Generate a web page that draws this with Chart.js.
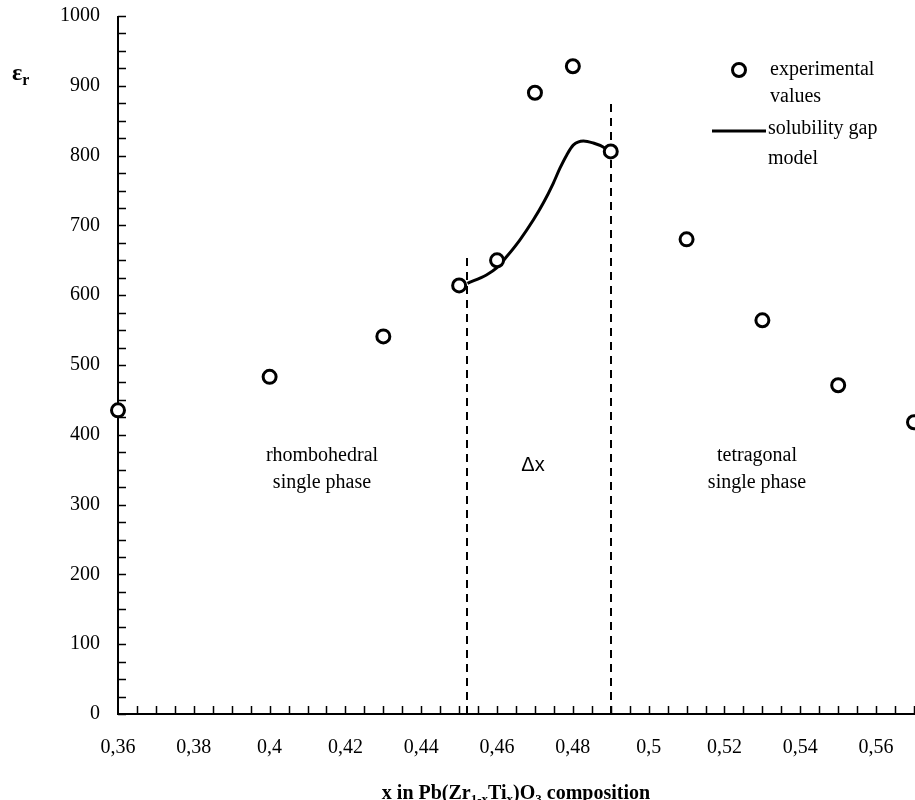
<!DOCTYPE html>
<html>
<head>
<meta charset="utf-8">
<script src="https://cdn.jsdelivr.net/npm/chart.js@4.4.1/dist/chart.umd.min.js"></script>
<style>
  html, body { margin: 0; padding: 0; background: #fff; }
  #wrap { width: 915px; height: 800px; }
</style>
</head>
<body>
<div id="wrap"><canvas id="chart" width="915" height="800"></canvas></div>
<script>
// Measured relative permittivity of PZT ceramics vs. Ti fraction x
const compositions = [0.36, 0.40, 0.43, 0.45, 0.46, 0.47, 0.48, 0.49, 0.51, 0.53, 0.55, 0.57];
const permittivity = [435, 483, 541, 614, 650, 890, 928, 806, 680, 564, 471, 418];

// Solubility gap model curve across the two-phase region
const modelX = [0.4522, 0.4572, 0.4599, 0.4625, 0.4660, 0.4696, 0.4722, 0.4748, 0.4766, 0.4784, 0.4801, 0.4828, 0.4854, 0.4881, 0.4898];
const modelY = [617, 629, 639, 655, 679, 708, 732, 760, 782, 801, 815, 821, 818, 812, 805];

// Phase boundaries (dashed verticals) and how high they reach
const boundaryX = [0.452, 0.49];
const boundaryTop = [655, 875];

// Axis ticks
const xTickValues = [0.36, 0.38, 0.40, 0.42, 0.44, 0.46, 0.48, 0.50, 0.52, 0.54, 0.56];
const xTickLabels = ['0,36', '0,38', '0,4', '0,42', '0,44', '0,46', '0,48', '0,5', '0,52', '0,54', '0,56'];
const yTickValues = [0, 100, 200, 300, 400, 500, 600, 700, 800, 900, 1000];
const xMinorStep = 0.005;
const yMinorStep = 25;

const SERIF = '"Liberation Serif", "Times New Roman", serif';

function drawRich(ctx, parts, x, y, align, size, bold) {
  const w = bold ? 'bold ' : '';
  const fontMain = w + size + 'px ' + SERIF;
  const fontSub = w + Math.round(size * 0.65) + 'px ' + SERIF;
  let total = 0;
  parts.forEach(p => { ctx.font = p.sub ? fontSub : fontMain; total += ctx.measureText(p.t).width; });
  let cx = align === 'center' ? x - total / 2 : x;
  ctx.textAlign = 'left';
  ctx.textBaseline = 'alphabetic';
  parts.forEach(p => {
    ctx.font = p.sub ? fontSub : fontMain;
    ctx.fillText(p.t, cx, p.sub ? y + size * 0.22 : y);
    cx += ctx.measureText(p.t).width;
  });
}

const framePlugin = {
  id: 'frame',
  beforeDatasetsDraw(chart) {
    const ctx = chart.ctx;
    const xs = chart.scales.x, ys = chart.scales.y;
    const x0 = xs.getPixelForValue(xs.min), x1 = chart.width;
    const y0 = ys.getPixelForValue(0), y1 = ys.getPixelForValue(1000);
    ctx.save();
    ctx.strokeStyle = '#000';
    ctx.fillStyle = '#000';
    // axis lines
    ctx.lineWidth = 2;
    ctx.beginPath();
    ctx.moveTo(x0, y1); ctx.lineTo(x0, y0); ctx.lineTo(x1, y0);
    ctx.stroke();
    // inward ticks
    ctx.lineWidth = 1.5;
    ctx.beginPath();
    for (let v = 0; v <= 1000 + 1e-6; v += yMinorStep) {
      const py = Math.round(ys.getPixelForValue(v)) + 0.5;
      ctx.moveTo(x0, py); ctx.lineTo(x0 + 8, py);
    }
    for (let i = 1; ; i++) {
      const v = xs.min + i * xMinorStep;
      if (v > xs.max + 1e-9) break;
      const px = Math.round(xs.getPixelForValue(v)) + 0.5;
      ctx.moveTo(px, y0); ctx.lineTo(px, y0 - 8);
    }
    ctx.stroke();
    // phase boundaries
    ctx.lineWidth = 2;
    ctx.setLineDash([8, 6]);
    boundaryX.forEach((bx, i) => {
      const px = Math.round(xs.getPixelForValue(bx));
      ctx.beginPath();
      ctx.moveTo(px, y0);
      ctx.lineTo(px, ys.getPixelForValue(boundaryTop[i]));
      ctx.stroke();
    });
    ctx.setLineDash([]);
    // tick labels
    ctx.font = '20px ' + SERIF;
    ctx.textAlign = 'right';
    ctx.textBaseline = 'middle';
    yTickValues.forEach(v => ctx.fillText(String(v), x0 - 18, ys.getPixelForValue(v)));
    ctx.textAlign = 'center';
    xTickValues.forEach((v, i) => ctx.fillText(xTickLabels[i], xs.getPixelForValue(v), y0 + 34));
    ctx.restore();
  },
  afterDraw(chart) {
    const ctx = chart.ctx;
    ctx.save();
    ctx.fillStyle = '#000';
    // axis titles
    drawRich(ctx, [
      { t: 'x in Pb(Zr' }, { t: '1-x', sub: true }, { t: 'Ti' }, { t: 'x', sub: true },
      { t: ')O' }, { t: '3', sub: true }, { t: ' composition' }
    ], 516, 799, 'center', 20, true);
    drawRich(ctx, [{ t: 'ε' }, { t: 'r', sub: true }], 12, 80, 'left', 24, true);

    // region annotations
    ctx.font = '20px ' + SERIF;
    ctx.textAlign = 'center';
    ctx.textBaseline = 'middle';
    ctx.fillText('rhombohedral', 322, 456);
    ctx.fillText('single phase', 322, 483);
    ctx.fillText('tetragonal', 757, 456);
    ctx.fillText('single phase', 757, 483);
    ctx.font = '20px "Liberation Sans", Arial, sans-serif';
    ctx.fillText('Δx', 533, 465);

    // legend
    ctx.strokeStyle = '#000';
    ctx.lineWidth = 3;
    ctx.beginPath();
    ctx.arc(739, 70, 6.5, 0, Math.PI * 2);
    ctx.stroke();
    ctx.beginPath();
    ctx.moveTo(712, 131); ctx.lineTo(766, 131);
    ctx.stroke();
    ctx.font = '20px ' + SERIF;
    ctx.textAlign = 'left';
    ctx.fillText('experimental', 770, 70);
    ctx.fillText('values', 770, 97);
    ctx.fillText('solubility gap', 768, 129);
    ctx.fillText('model', 768, 159);
    ctx.restore();
  }
};

new Chart(document.getElementById('chart'), {
  type: 'scatter',
  data: {
    datasets: [
      {
        label: 'solubility gap model',
        type: 'line',
        data: modelX.map((x, i) => ({ x: x, y: modelY[i] })),
        borderColor: '#000',
        borderWidth: 3,
        pointRadius: 0,
        cubicInterpolationMode: 'monotone',
        fill: false,
        order: 2
      },
      {
        label: 'experimental values',
        data: compositions.map((x, i) => ({ x: x, y: permittivity[i] })),
        pointStyle: 'circle',
        pointRadius: 6.5,
        pointBorderWidth: 3,
        borderColor: '#000',
        backgroundColor: '#fff',
        clip: false,
        order: 1
      }
    ]
  },
  options: {
    responsive: false,
    animation: false,
    devicePixelRatio: 1,
    layout: { autoPadding: false, padding: { left: 118, right: 1, top: 16, bottom: 86 } },
    plugins: { legend: { display: false }, tooltip: { enabled: false } },
    scales: {
      x: { type: 'linear', min: 0.36, max: 0.57, display: false },
      y: { type: 'linear', min: 0, max: 1000, display: false }
    }
  },
  plugins: [framePlugin]
});
</script>
</body>
</html>
